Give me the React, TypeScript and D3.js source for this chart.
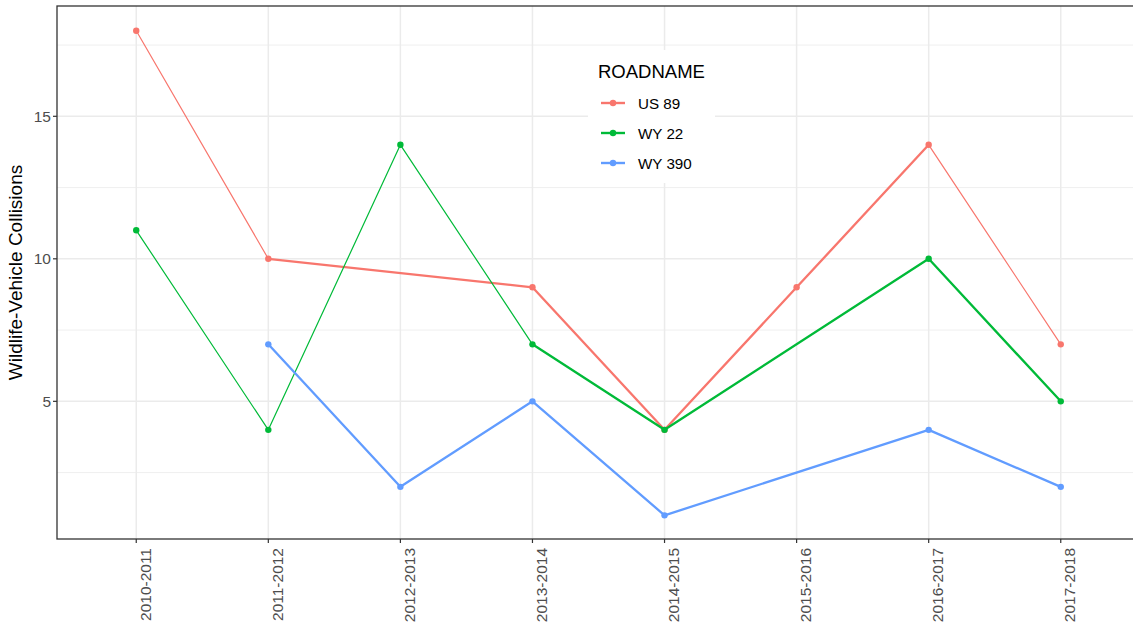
import React from 'react';
import * as d3 from 'd3';

// seasons on the x axis
const seasons = [
  '2010-2011', '2011-2012', '2012-2013', '2013-2014',
  '2014-2015', '2015-2016', '2016-2017', '2017-2018',
];

// collisions per road (null = no record for that season)
const us89 = [18, 10, null, 9, 4, 9, 14, 7];
const wy22 = [11, 4, 14, 7, 4, null, 10, 5];
const wy390 = [null, 7, 2, 5, 1, null, 4, 2];

const roadNames = ['US 89', 'WY 22', 'WY 390'];
const yTicks = [5, 10, 15];
const yMinorTicks = [2.5, 7.5, 12.5, 17.5];

// stroke weight of each drawn segment (overplotted segments look heavier)
const segWeights: Record<string, number[]> = {
  'US 89': [1, 2, 2, 2, 2, 1],
  'WY 22': [1, 1, 1, 2, 2, 2],
  'WY 390': [2, 2, 2, 2, 2],
};

const colors = ['#F8766D', '#00BA38', '#619CFF'];
const FONT = '"Liberation Sans", Arial, sans-serif';

export default function App() {
  const width = 1133;
  const height = 631;
  const panel = { left: 57, right: 1140, top: 6, bottom: 539 };

  const x = d3.scalePoint<string>()
    .domain(seasons)
    .range([panel.left, panel.right])
    .padding(0.6);
  const y = d3.scaleLinear().domain([0.17, 18.87]).range([panel.bottom, panel.top]);

  const series = [us89, wy22, wy390].map((vals, i) => ({
    name: roadNames[i],
    color: colors[i],
    pts: vals
      .map((v, j) => ({ s: seasons[j], v }))
      .filter(d => d.v !== null) as { s: string; v: number }[],
  }));

  return (
    <div style={{ position: 'fixed', left: 0, top: 0 }}>
      <svg width={width} height={height} style={{ display: 'block', background: '#fff' }}>
        <rect x={0} y={0} width={width} height={height} fill="#fff" />

        {/* grid */}
        {yMinorTicks.map(t => (
          <line key={'ym' + t} x1={panel.left} x2={panel.right} y1={y(t)} y2={y(t)}
            stroke="#EBEBEB" strokeWidth={0.8} />
        ))}
        {yTicks.map(t => (
          <line key={'y' + t} x1={panel.left} x2={panel.right} y1={y(t)} y2={y(t)}
            stroke="#EBEBEB" strokeWidth={1.5} />
        ))}
        {seasons.map(s => (
          <line key={'x' + s} x1={x(s)} x2={x(s)} y1={panel.top} y2={panel.bottom}
            stroke="#EBEBEB" strokeWidth={1.5} />
        ))}

        {/* lines */}
        {series.map(sr => (
          <g key={sr.name}>
            {sr.pts.slice(1).map((p, k) => {
              const a = sr.pts[k];
              const w = segWeights[sr.name][k] === 2 ? 2.3 : 1.2;
              return (
                <line key={k} x1={x(a.s)} y1={y(a.v)} x2={x(p.s)} y2={y(p.v)}
                  stroke={sr.color} strokeWidth={w} strokeLinecap="round" />
              );
            })}
            {sr.pts.map(p => (
              <circle key={p.s} cx={x(p.s)} cy={y(p.v)} r={3.2} fill={sr.color} />
            ))}
          </g>
        ))}

        {/* legend */}
        <rect x={588} y={50} width={127} height={133} fill="#fff" />
        <text x={598} y={78} fontFamily={FONT} fontSize={18.5} fill="#000">ROADNAME</text>
        {series.map((sr, i) => {
          const ky = 103 + i * 30;
          return (
            <g key={'lg' + sr.name}>
              <line x1={601} x2={625} y1={ky} y2={ky} stroke={sr.color} strokeWidth={2.4} />
              <circle cx={613} cy={ky} r={3.2} fill={sr.color} />
              <text x={638} y={ky + 6} fontFamily={FONT} fontSize={15.2} fill="#000">{sr.name}</text>
            </g>
          );
        })}

        {/* panel border */}
        <rect x={panel.left} y={panel.top} width={panel.right - panel.left}
          height={panel.bottom - panel.top} fill="none" stroke="#333333" strokeWidth={1.3} />

        {/* y axis */}
        {yTicks.map(t => (
          <g key={'yt' + t}>
            <line x1={panel.left - 4} x2={panel.left} y1={y(t)} y2={y(t)} stroke="#333" strokeWidth={1.2} />
            <text x={panel.left - 6} y={y(t)} dy="0.36em" textAnchor="end"
              fontFamily={FONT} fontSize={15.5} fill="#4D4D4D">{t}</text>
          </g>
        ))}
        <text transform={`translate(22,${(panel.top + panel.bottom) / 2}) rotate(-90)`}
          textAnchor="middle" fontFamily={FONT} fontSize={19} fill="#000">
          Wildlife-Vehicle Collisions
        </text>

        {/* x axis */}
        {seasons.map(s => (
          <g key={'xt' + s}>
            <line x1={x(s)} x2={x(s)} y1={panel.bottom} y2={panel.bottom + 4} stroke="#333" strokeWidth={1.2} />
            <text transform={`translate(${(x(s) as number) + 14.5},${panel.bottom + 9}) rotate(-90)`}
              textAnchor="end" fontFamily={FONT} fontSize={15.5} fill="#4D4D4D">{s}</text>
          </g>
        ))}
      </svg>
    </div>
  );
}
